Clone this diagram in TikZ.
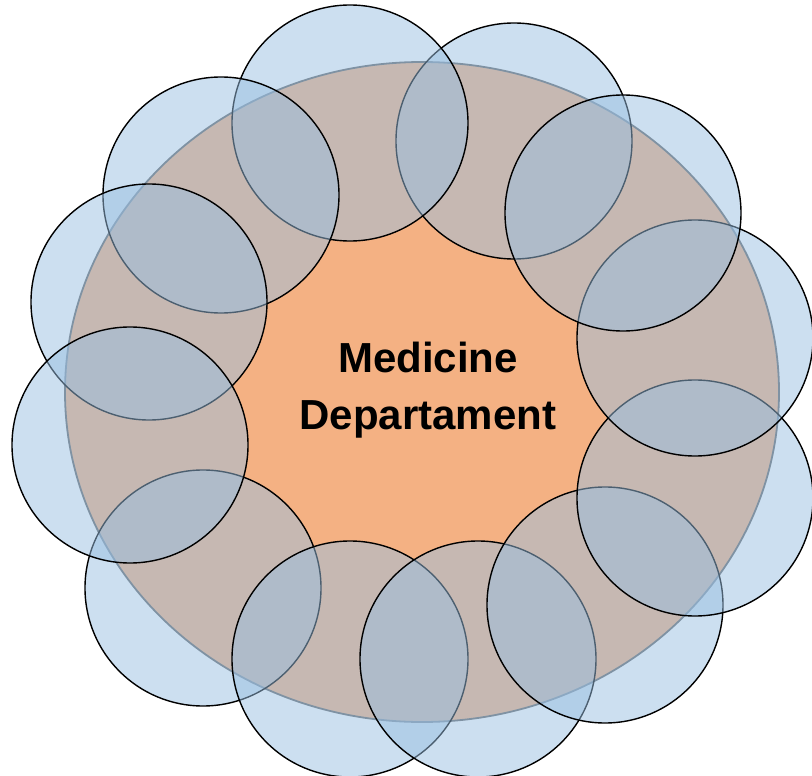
\documentclass[tikz,border=0pt]{standalone}
\usepackage{fontspec}
\setmainfont{Liberation Sans}
\usetikzlibrary{shapes.geometric}
\definecolor{deptorange}{HTML}{F4B183}
\definecolor{unitblue}{HTML}{99BFE1}
\definecolor{rimgray}{HTML}{666666}

\begin{document}
\begin{tikzpicture}[x=1pt,y=-1pt,
  dept node/.style={ellipse,draw=rimgray,line width=1.8pt,fill=deptorange,minimum width=714pt,minimum height=660pt,inner sep=0pt},
  unit node/.style={circle,draw=black,line width=1.4pt,fill=unitblue,fill opacity=0.5,minimum size=236pt,inner sep=0pt}]

  \useasboundingbox (0,0) rectangle (812,776);

  \node[dept node] (dept) at (422,392) {};

  \foreach \n/\x/\y in {2/514/141, 1/350/123, 12/221/195, 11/149/302, 9/203/588, 10/130/445,
                        8/350/659, 7/478/659, 6/605/605, 5/695/498, 4/695/338, 3/623/213}
    \node[unit node] (u\n) at (\x,\y) {};

  \node[font=\bfseries\fontsize{42}{57}\selectfont, align=center] (title) at (428,390) {Medicine\\Departament};

\end{tikzpicture}
\end{document}
